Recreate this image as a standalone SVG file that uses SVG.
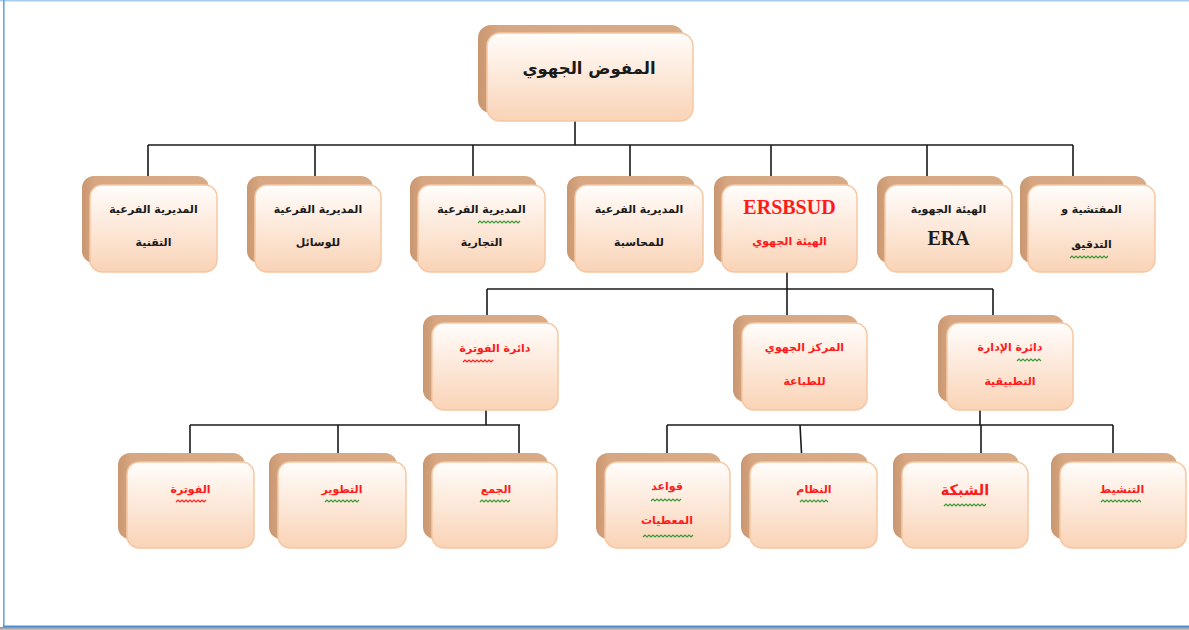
<svg xmlns="http://www.w3.org/2000/svg" width="1189" height="630" viewBox="0 0 1189 630">
<defs>
<linearGradient id="fg" x1="0" y1="0" x2="0" y2="1">
<stop offset="0" stop-color="#fffdfb"/>
<stop offset="0.45" stop-color="#fdeadc"/>
<stop offset="1" stop-color="#f9d3b6"/>
</linearGradient>
<linearGradient id="sg" x1="0" y1="0" x2="1" y2="0">
<stop offset="0" stop-color="#c99670"/>
<stop offset="0.1" stop-color="#d6a782"/>
<stop offset="1" stop-color="#d8ab87"/>
</linearGradient>
<linearGradient id="bottomShade" x1="0" y1="0" x2="0" y2="1">
<stop offset="0" stop-color="#8c8c8c"/>
<stop offset="1" stop-color="#c8c8c8"/>
</linearGradient>
</defs>
<style>
.sh{fill:url(#sg);}
.fr{fill:url(#fg);stroke:#f6c7a2;stroke-width:1.5;}
.ln{stroke:#1a1a1a;stroke-width:1.6;fill:none;}
.ar{font-family:"DejaVu Sans",sans-serif;font-weight:bold;text-anchor:middle;font-size:11px;}
.k{fill:#1a1a1a;}
.r{fill:#ff1a1a;}
.lat{font-family:"Liberation Serif",serif;font-weight:bold;text-anchor:middle;font-size:20px;}
.sqg{stroke:#3a9a3a;stroke-width:1.2;fill:none;}
.sqr{stroke:#ff2020;stroke-width:1.2;fill:none;}
</style>
<rect x="0" y="0" width="1189" height="630" fill="#ffffff"/>
<!-- frame -->
<line x1="0" y1="0.8" x2="1189" y2="0.8" stroke="#a9cdea" stroke-width="1.6"/>
<line x1="3.8" y1="0" x2="3.8" y2="627" stroke="#6aa6dc" stroke-width="1.6"/>
<line x1="3" y1="626.2" x2="1189" y2="626.2" stroke="#4a90d6" stroke-width="1.6"/>
<rect x="0" y="627" width="1189" height="3" fill="url(#bottomShade)"/>

<g id="connectors">
<path class="ln" d="M575 121V145M148 145H1073M148 145V185M315 145V185M473 145V185M630 145V185M771 145V185M927 145V185M1073 145V185"/>
<path class="ln" d="M787 272V289M487 289H993M487 289V323M787 289V323M993 289V323"/>
<path class="ln" d="M486 410V425M190 425H520M190 425V462M338 425V462M519 425V462"/>
<path class="ln" d="M980 410V425M667 425H1113M667 425V462M800 425L802 462M981 425V462M1113 425V462"/>
</g>

<g id="n-top">
<rect class="sh" x="478" y="25" width="206" height="88" rx="13"/>
<rect class="fr" x="487" y="33" width="206" height="88" rx="13"/>
<text class="ar k" x="589" y="74" style="font-size:16.5px">المفوض الجهوي</text>
</g>

<g id="n-tech">
<rect class="sh" x="82" y="176" width="127" height="87" rx="12"/>
<rect class="fr" x="90" y="185" width="127" height="87" rx="12"/>
<text class="ar k" x="153.5" y="213">المديرية الفرعية</text>
<text class="ar k" x="153.5" y="246">التقنية</text>
</g>
<g id="n-means">
<rect class="sh" x="247" y="176" width="126" height="87" rx="12"/>
<rect class="fr" x="255" y="185" width="126" height="87" rx="12"/>
<text class="ar k" x="318" y="213">المديرية الفرعية</text>
<text class="ar k" x="318" y="246">للوسائل</text>
</g>
<g id="n-comm">
<rect class="sh" x="410" y="176" width="127" height="87" rx="12"/>
<rect class="fr" x="418" y="185" width="127" height="87" rx="12"/>
<text class="ar k" x="481.5" y="213">المديرية الفرعية</text>
<path class="sqg" d="M478 223l2 -2 2 2 2 -2 2 2 2 -2 2 2 2 -2 2 2 2 -2 2 2 2 -2 2 2 2 -2 2 2 2 -2 2 2 2 -2 2 2 2 -2 2 2 2 -2"/>
<text class="ar k" x="481.5" y="246">التجارية</text>
</g>
<g id="n-acc">
<rect class="sh" x="567" y="176" width="128" height="87" rx="12"/>
<rect class="fr" x="575" y="185" width="128" height="87" rx="12"/>
<text class="ar k" x="639" y="213">المديرية الفرعية</text>
<text class="ar k" x="639" y="246">للمحاسبة</text>
</g>
<g id="n-ersbsud">
<rect class="sh" x="714" y="176" width="135" height="87" rx="12"/>
<rect class="fr" x="722" y="185" width="135" height="87" rx="12"/>
<text class="lat r" x="789.5" y="214">ERSBSUD</text>
<text class="ar r" x="789.5" y="245">الهيئة  الجهوي</text>
</g>
<g id="n-era">
<rect class="sh" x="877" y="176" width="127" height="87" rx="12"/>
<rect class="fr" x="885" y="185" width="127" height="87" rx="12"/>
<text class="ar k" x="948.5" y="213">الهيئة الجهوية</text>
<text class="lat k" x="948.5" y="245">ERA</text>
</g>
<g id="n-insp">
<rect class="sh" x="1020" y="176" width="127" height="87" rx="12"/>
<rect class="fr" x="1028" y="185" width="127" height="87" rx="12"/>
<text class="ar k" x="1091.5" y="213">المفتشية و</text>
<text class="ar k" x="1091.5" y="248">التدقيق</text>
<path class="sqg" d="M1070 258l2 -2 2 2 2 -2 2 2 2 -2 2 2 2 -2 2 2 2 -2 2 2 2 -2 2 2 2 -2 2 2 2 -2 2 2 2 -2 2 2 2 -2"/>
</g>

<g id="n-billing-dept">
<rect class="sh" x="423" y="315" width="126" height="87" rx="12"/>
<rect class="fr" x="432" y="323" width="126" height="87" rx="12"/>
<text class="ar r" x="495" y="352">دائرة الفوترة</text>
<path class="sqr" d="M463 362l2 -2 2 2 2 -2 2 2 2 -2 2 2 2 -2 2 2 2 -2 2 2 2 -2 2 2 2 -2 2 2 2 -2"/>
</g>
<g id="n-print">
<rect class="sh" x="733" y="315" width="125" height="87" rx="12"/>
<rect class="fr" x="742" y="323" width="125" height="87" rx="12"/>
<text class="ar r" x="804.5" y="351">المركز الجهوي</text>
<text class="ar r" x="804.5" y="385">للطباعة</text>
</g>
<g id="n-admin">
<rect class="sh" x="938" y="315" width="126" height="87" rx="12"/>
<rect class="fr" x="947" y="323" width="126" height="87" rx="12"/>
<text class="ar r" x="1010" y="351">دائرة الإدارة</text>
<path class="sqg" d="M1017 361l2 -2 2 2 2 -2 2 2 2 -2 2 2 2 -2 2 2 2 -2 2 2 2 -2 2 2"/>
<text class="ar r" x="1010" y="385">التطبيقية</text>
</g>

<g id="n-fact">
<rect class="sh" x="118" y="453" width="127" height="86" rx="12"/>
<rect class="fr" x="127" y="462" width="127" height="86" rx="12"/>
<text class="ar r" x="190.5" y="493">الفوترة</text>
<path class="sqr" d="M176 502l2 -2 2 2 2 -2 2 2 2 -2 2 2 2 -2 2 2 2 -2 2 2 2 -2 2 2 2 -2 2 2 2 -2"/>
</g>
<g id="n-dev">
<rect class="sh" x="269" y="453" width="128" height="86" rx="12"/>
<rect class="fr" x="278" y="462" width="128" height="86" rx="12"/>
<text class="ar r" x="342" y="493">التطوير</text>
<path class="sqg" d="M325 502l2 -2 2 2 2 -2 2 2 2 -2 2 2 2 -2 2 2 2 -2 2 2 2 -2 2 2 2 -2 2 2 2 -2 2 2 2 -2"/>
</g>
<g id="n-collect">
<rect class="sh" x="423" y="453" width="125" height="86" rx="12"/>
<rect class="fr" x="432" y="462" width="125" height="86" rx="12"/>
<text class="ar r" x="496" y="493">الجمع</text>
<path class="sqg" d="M480 502l2 -2 2 2 2 -2 2 2 2 -2 2 2 2 -2 2 2 2 -2 2 2 2 -2 2 2 2 -2 2 2 2 -2"/>
</g>
<g id="n-db">
<rect class="sh" x="596" y="453" width="125" height="86" rx="12"/>
<rect class="fr" x="605" y="462" width="125" height="86" rx="12"/>
<text class="ar r" x="667" y="490">قواعد</text>
<path class="sqg" d="M651 501l2 -2 2 2 2 -2 2 2 2 -2 2 2 2 -2 2 2 2 -2 2 2 2 -2 2 2 2 -2 2 2 2 -2"/>
<text class="ar r" x="667" y="524">المعطيات</text>
<path class="sqg" d="M643 537l2 -2 2 2 2 -2 2 2 2 -2 2 2 2 -2 2 2 2 -2 2 2 2 -2 2 2 2 -2 2 2 2 -2 2 2 2 -2 2 2 2 -2 2 2 2 -2 2 2 2 -2 2 2 2 -2"/>
</g>
<g id="n-sys">
<rect class="sh" x="741" y="453" width="127" height="86" rx="12"/>
<rect class="fr" x="750" y="462" width="127" height="86" rx="12"/>
<text class="ar r" x="814" y="493">النظام</text>
<path class="sqg" d="M800 502l2 -2 2 2 2 -2 2 2 2 -2 2 2 2 -2 2 2 2 -2 2 2 2 -2 2 2 2 -2 2 2"/>
</g>
<g id="n-net">
<rect class="sh" x="893" y="453" width="126" height="86" rx="12"/>
<rect class="fr" x="902" y="462" width="126" height="86" rx="12"/>
<text class="ar r" x="965" y="495" style="font-size:14.5px">الشبكة</text>
<path class="sqg" d="M944 506l2 -2 2 2 2 -2 2 2 2 -2 2 2 2 -2 2 2 2 -2 2 2 2 -2 2 2 2 -2 2 2 2 -2 2 2 2 -2 2 2 2 -2 2 2 2 -2"/>
</g>
<g id="n-anim">
<rect class="sh" x="1051" y="453" width="126" height="86" rx="12"/>
<rect class="fr" x="1060" y="462" width="126" height="86" rx="12"/>
<text class="ar r" x="1122" y="493">التنشيط</text>
<path class="sqg" d="M1101 502l2 -2 2 2 2 -2 2 2 2 -2 2 2 2 -2 2 2 2 -2 2 2 2 -2 2 2 2 -2 2 2 2 -2 2 2 2 -2 2 2 2 -2 2 2"/>
</g>
</svg>
